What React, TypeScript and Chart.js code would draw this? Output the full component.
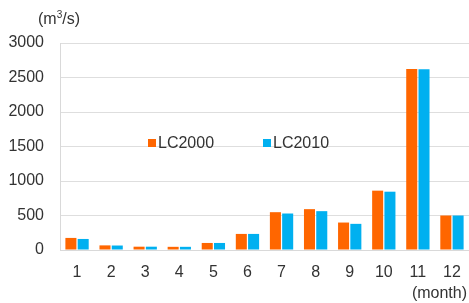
import React, { useEffect, useRef } from "react";
import { Chart, registerables } from "chart.js";

Chart.register(...registerables);

const months = ["1", "2", "3", "4", "5", "6", "7", "8", "9", "10", "11", "12"];
const lc2000 = [175, 67, 48, 46, 102, 233, 548, 592, 398, 860, 2625, 500];
const lc2010 = [160, 65, 48, 46, 102, 233, 529, 563, 379, 845, 2620, 500];
const yTicks = [0, 500, 1000, 1500, 2000, 2500, 3000];

const ORANGE = "#FF6600";
const BLUE = "#00B0F0";
const TEXT = "#333333";
const FONT = "'Liberation Sans', Arial, sans-serif";

const overlayPlugin = {
  id: "overlay",
  afterDraw(chart: any) {
    const ctx = chart.ctx;
    const area = chart.chartArea;
    ctx.save();
    ctx.fillStyle = TEXT;
    ctx.font = `16px ${FONT}`;
    ctx.textBaseline = "middle";
    ctx.textAlign = "left";
    // unit label
    ctx.fillText("(m", 38, 20);
    const w1 = ctx.measureText("(m").width;
    ctx.font = `10px ${FONT}`;
    ctx.fillText("3", 38 + w1, 15);
    const w2 = ctx.measureText("3").width;
    ctx.font = `16px ${FONT}`;
    ctx.fillText("/s)", 38 + w1 + w2, 20);
    // month label
    ctx.textAlign = "right";
    ctx.fillText("(month)", 467, 294);
    // legend
    const ly = area.top + 100;
    const items = [
      { x: area.left + 88, c: ORANGE, t: "LC2000" },
      { x: area.left + 203, c: BLUE, t: "LC2010" },
    ];
    ctx.textAlign = "left";
    for (const it of items) {
      ctx.fillStyle = it.c;
      ctx.fillRect(it.x, ly - 4, 8, 8);
      ctx.fillStyle = TEXT;
      ctx.fillText(it.t, it.x + 10, ly + 1);
    }
    ctx.restore();
  },
};

export default function App() {
  const ref = useRef<HTMLCanvasElement>(null);
  useEffect(() => {
    document.body.style.margin = "0";
    const chart = new Chart(ref.current!, {
      type: "bar",
      data: {
        labels: months,
        datasets: [
          { label: "LC2000", data: lc2000, backgroundColor: ORANGE },
          { label: "LC2010", data: lc2010, backgroundColor: BLUE },
        ],
      },
      options: {
        animation: false,
        responsive: false,
        maintainAspectRatio: false,
        layout: { padding: { top: 43, right: 0, left: 0, bottom: 0 } },
        datasets: { bar: { categoryPercentage: 0.72, barPercentage: 0.9 } },
        plugins: { legend: { display: false }, tooltip: { enabled: false } },
        scales: {
          x: {
            grid: { display: false, drawTicks: false },
            border: { color: "#d9d9d9" },
            ticks: { color: TEXT, font: { size: 16, family: FONT }, padding: 13 },
            afterFit(s: any) { s.height = 53; s.paddingRight = 0; s.paddingLeft = 0; },
          },
          y: {
            min: 0,
            max: 3000,
            afterBuildTicks(s: any) { s.ticks = yTicks.map((v) => ({ value: v })); },
            grid: { color: "#dedede", drawTicks: false },
            border: { color: "#d9d9d9" },
            ticks: {
              color: TEXT,
              font: { size: 16, family: FONT },
              padding: 16,
              callback: (v: any) => String(v),
            },
            afterFit(s: any) { s.width = 60; },
          },
        },
      },
      plugins: [overlayPlugin],
    });
    return () => chart.destroy();
  }, []);
  return <canvas ref={ref} width={469} height={303} style={{ display: "block" }} />;
}
